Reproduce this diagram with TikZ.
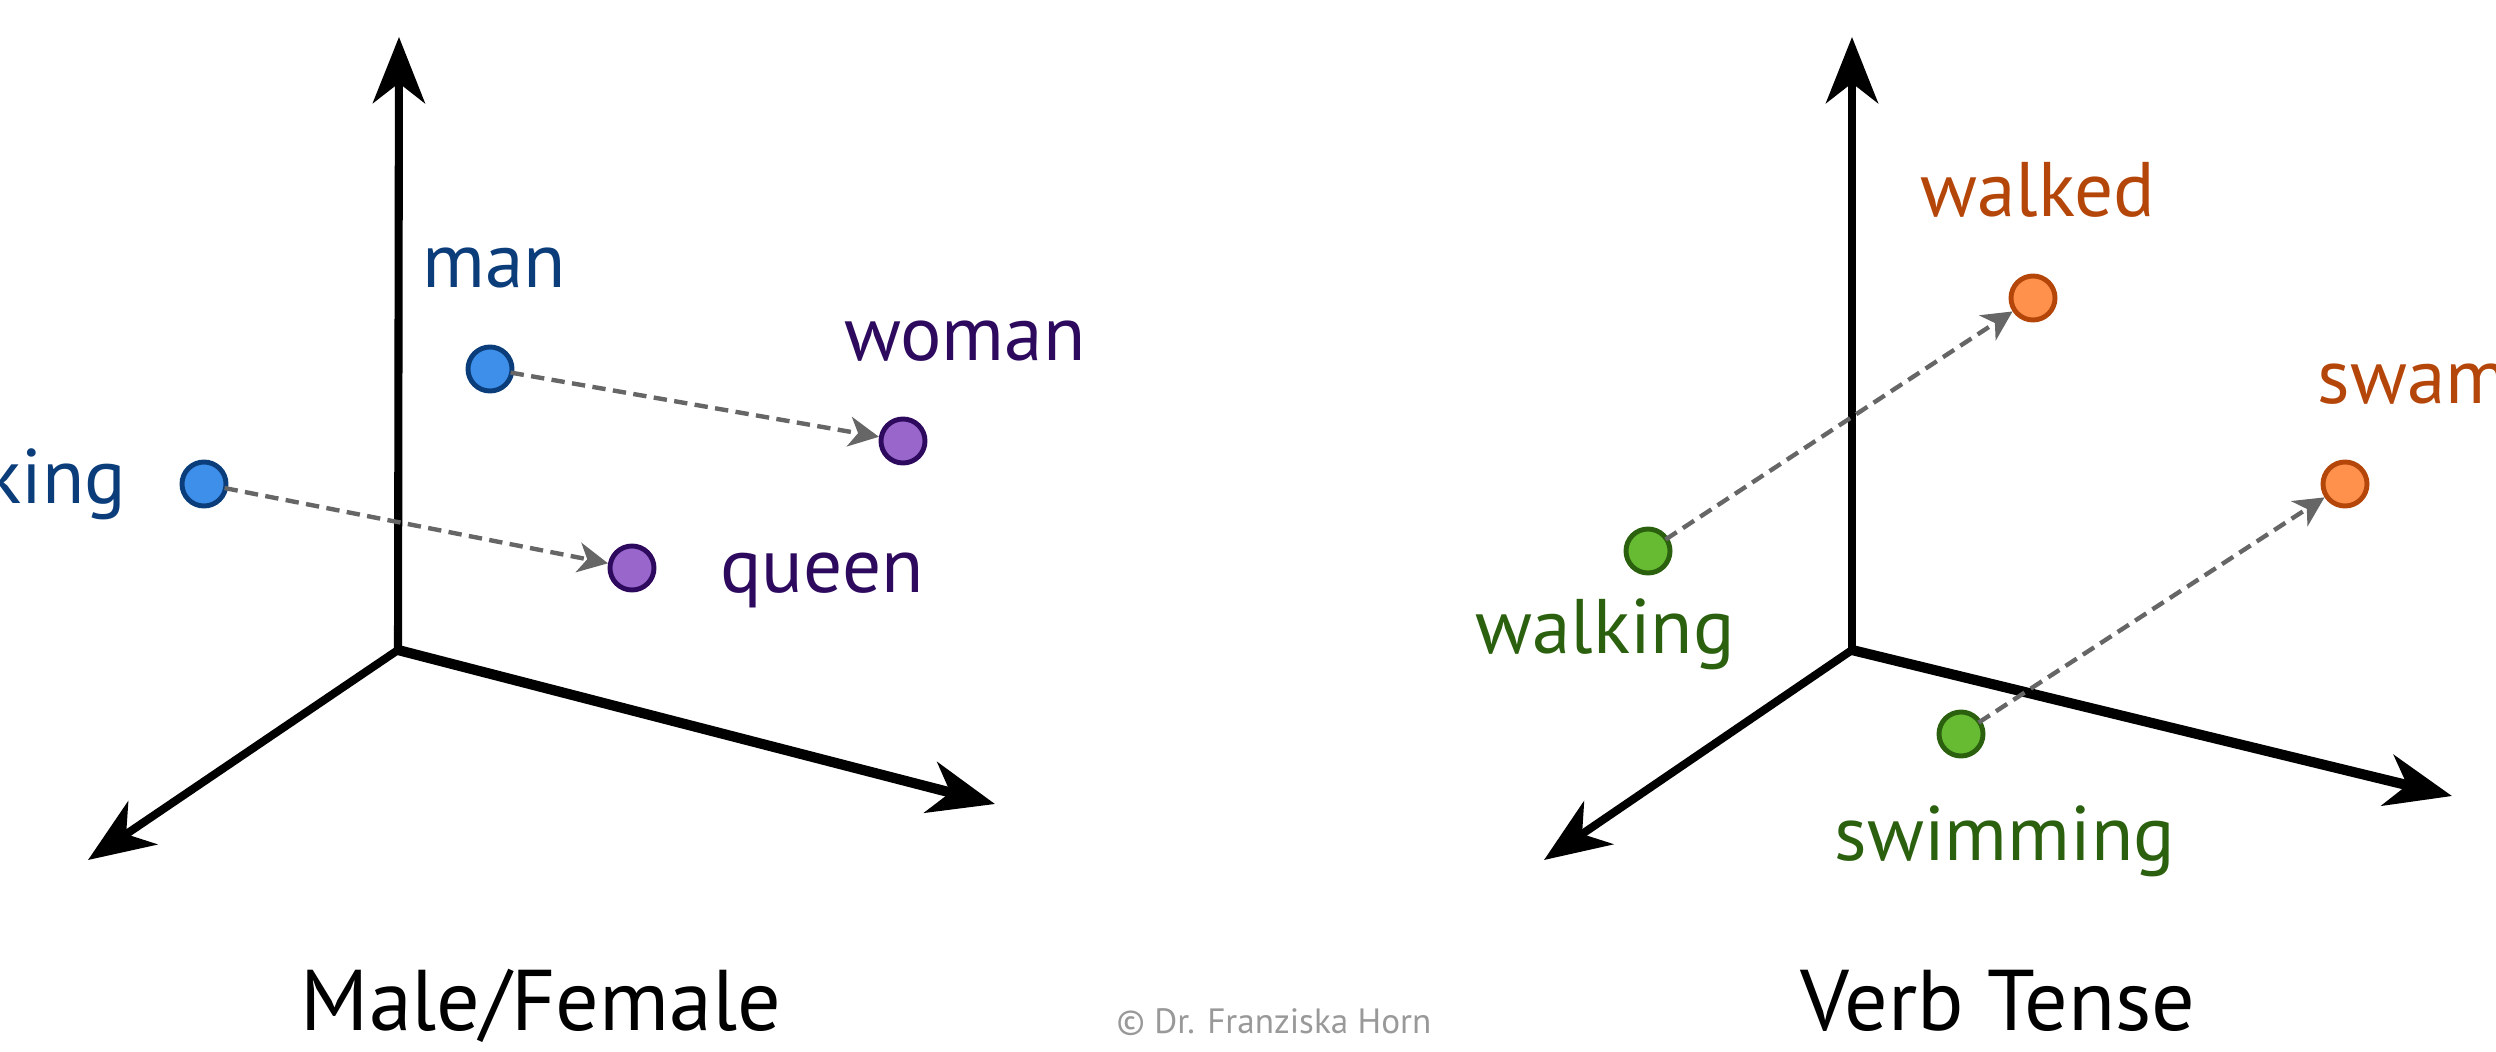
\documentclass[tikz,border=0pt]{standalone}
\usepackage{fontspec}
\setmainfont{PT Sans}
\usepackage{xcolor}
\usetikzlibrary{arrows.meta,positioning,calc}

\definecolor{maleblue}{HTML}{3D8FEA}
\definecolor{maletext}{HTML}{0B3D7A}
\definecolor{femfill}{HTML}{9966CC}
\definecolor{femtext}{HTML}{2E0A5E}
\definecolor{pastfill}{HTML}{FF914D}
\definecolor{pasttext}{HTML}{B5460A}
\definecolor{ingfill}{HTML}{66BB33}
\definecolor{ingtext}{HTML}{2B600E}
\definecolor{vecgray}{HTML}{666666}

\tikzset{
    axis/.style={line width=2.3pt, -{Stealth[length=18.8pt, width=14.8pt, inset=5.7pt]}},
    axisr/.style={axis, line width=2.9pt},
    vec/.style={vecgray, line width=1.25pt, dash pattern=on 3.8pt off 2.1pt,
        -{Stealth[length=8.5pt, width=8.5pt, inset=2.5pt]}, shorten <=-1pt},
    dot/.style={circle, draw=#1text, fill=#1fill, line width=1.4pt,
        minimum size=0.44cm, inner sep=0pt},
    word/.style={text=#1text, font=\fontsize{22}{26}\selectfont, inner sep=0pt},
    title/.style={font=\fontsize{24.5}{28}\selectfont, inner sep=0pt, anchor=base},
}
\colorlet{malefill}{maleblue}

\begin{document}
\begin{tikzpicture}[x=0.01cm, y=-0.01cm]
    \useasboundingbox (0,0) rectangle (2496,1051);

    % Male/Female
    \begin{scope}[shift={(398,650)}]
        \coordinate (o1) at (0,0);
        \draw[axis] (o1) -- (1,-613);
        \draw[axis] (o1) -- (-310,210);
        \draw[axisr] (o1) -- (597,154);
        \node[dot=male] (man) at (92,-281) {};
        \node[dot=fem] (woman) at (505,-209) {};
        \node[dot=male] (king) at (-194,-166) {};
        \node[dot=fem] (queen) at (234,-82) {};
        \node[word=male, anchor=base] (manlbl) at (96,-363) {man};
        \node[word=fem, anchor=base] (womanlbl) at (567,-290) {woman};
        \node[word=male, anchor=base east] (kinglbl) at (-271,-147) {king};
        \node[word=fem, anchor=base] (queenlbl) at (424,-58) {queen};
        \draw[vec] (man) -- (woman);
        \draw[vec] (king) -- (queen);
        \node[title] (gender) at (143,380) {Male/Female};
    \end{scope}

    % Verb Tense
    \begin{scope}[shift={(1852,650)}]
        \coordinate (o2) at (0,0);
        \draw[axis] (o2) -- (0,-613);
        \draw[axis] (o2) -- (-308,210);
        \draw[axisr] (o2) -- (600,146);
        \node[dot=past] (walked) at (181,-352) {};
        \node[dot=past] (swam) at (493,-166) {};
        \node[dot=ing] (walking) at (-204,-99) {};
        \node[dot=ing] (swimming) at (109,84) {};
        \node[word=past, anchor=base] (walkedlbl) at (186,-434) {walked};
        \node[word=past, anchor=base west] (swamlbl) at (465,-247) {swam};
        \node[word=ing, anchor=base] (walkinglbl) at (-247,3) {walking};
        \node[word=ing, anchor=base] (swimminglbl) at (153,210) {swimming};
        \draw[vec] (walking) -- (walked);
        \draw[vec] (swimming) -- (swam);
        \node[title] (tense) at (146,380) {Verb Tense};
    \end{scope}

    \node[text=black!40, font=\fontsize{10}{12}\selectfont, anchor=base, inner sep=0pt]
        (credit) at (1274,1033) {© Dr. Franziska Horn};
\end{tikzpicture}
\end{document}
